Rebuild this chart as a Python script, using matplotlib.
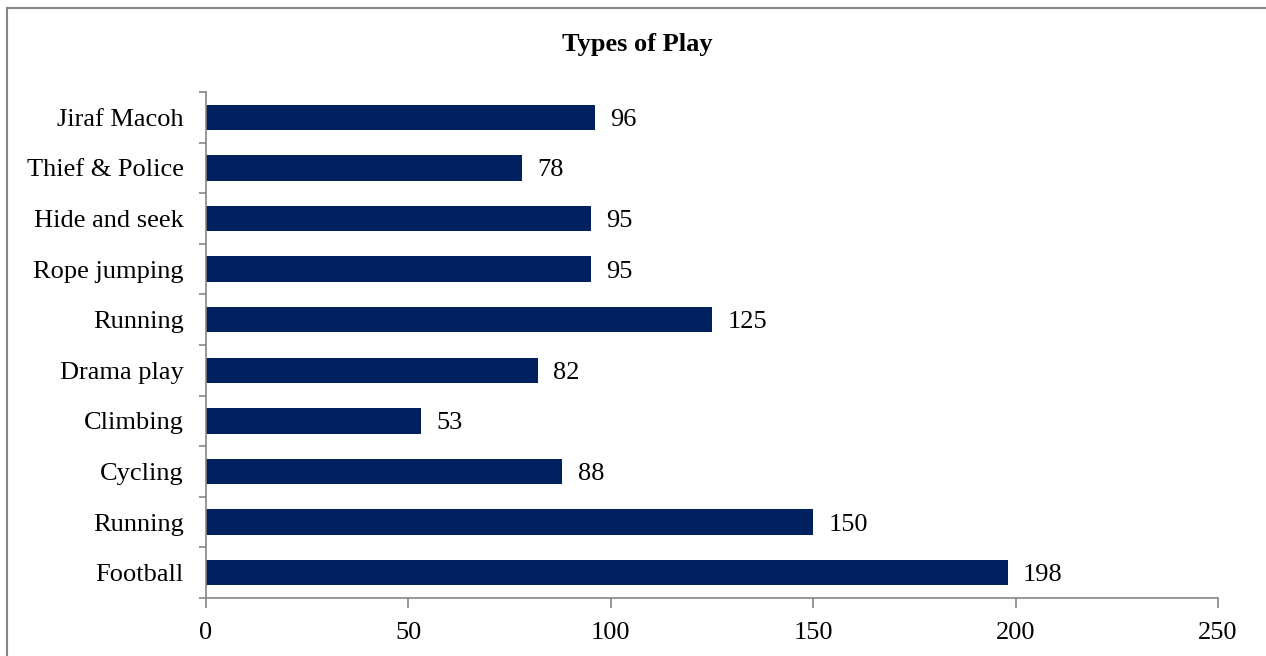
import matplotlib.pyplot as plt
from matplotlib.lines import Line2D

plt.rcParams['font.family'] = ['Liberation Serif', 'DejaVu Serif']

categories = ['Football', 'Running', 'Cycling', 'Climbing', 'Drama play',
              'Running', 'Rope jumping', 'Hide and seek', 'Thief & Police', 'Jiraf Macoh']
values = [198, 150, 88, 53, 82, 125, 95, 95, 78, 96]
xticks = [0, 50, 100, 150, 200, 250]

W, H = 1266, 656
fig = plt.figure(figsize=(W / 100, H / 100), dpi=100)
ax = fig.add_axes([206 / W, 1 - 598 / H, (1218 - 206) / W, (598 - 92) / H])

gray = '#868686'
fs = 19
pos = list(range(len(categories)))
ax.barh(pos, values, height=0.5, color='#002060')
for p, v in zip(pos, values):
    ax.text(v + 3.8, p, str(v), va='center_baseline', ha='left', fontsize=fs)

ax.set_xlim(0, 250)
ax.set_ylim(-0.5, len(categories) - 0.5)
ax.set_xticks(xticks)
ax.set_xticklabels([str(t) for t in xticks], fontsize=fs)
ax.set_yticks(pos)
ax.set_yticklabels(categories, fontsize=fs, va='center_baseline')
ax.tick_params(axis='y', length=0, pad=16)
ax.set_yticks([p - 0.5 for p in pos] + [len(categories) - 0.5], minor=True)
ax.tick_params(axis='y', which='minor', length=5, color=gray, width=1.2)
ax.tick_params(axis='x', length=7, color=gray, width=1.2, pad=10)

for s in ['top', 'right']:
    ax.spines[s].set_visible(False)
for s in ['left', 'bottom']:
    ax.spines[s].set_color(gray)
    ax.spines[s].set_linewidth(1.2)

fig.text(637 / W, 1 - 45 / H, 'Types of Play', ha='center', va='center',
         fontsize=fs, fontweight='bold')

# outer frame (only top and left visible)
fig.add_artist(Line2D([7 / W, 1], [1 - 8 / H, 1 - 8 / H], color=gray, lw=1.5,
                      transform=fig.transFigure))
fig.add_artist(Line2D([7 / W, 7 / W], [0, 1 - 8 / H], color=gray, lw=1.5,
                      transform=fig.transFigure))

fig.savefig('out.png', dpi=100)
